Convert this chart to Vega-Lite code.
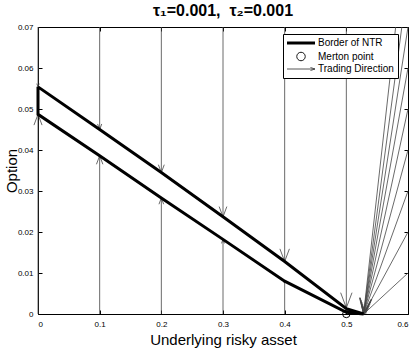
{
  "$schema": "https://vega.github.io/schema/vega-lite/v6.json",
  "width": 370,
  "height": 287,
  "autosize": "none",
  "padding": {"left": 38, "top": 27, "right": 7, "bottom": 35},
  "background": "white",
  "title": {"text": "τ₁=0.001,\u00a0\u00a0τ₂=0.001", "font": "Liberation Sans", "fontSize": 16, "fontWeight": "bold", "color": "black", "offset": 4},
  "config": {
    "view": {"stroke": "black", "strokeWidth": 1},
    "axis": {"domain": false, "grid": false, "tickColor": "black", "tickSize": -4, "labelFont": "Liberation Sans", "labelFontSize": 8, "labelColor": "black", "titleFont": "Liberation Sans", "titleFontSize": 15, "titleFontWeight": "normal", "titleColor": "black"}
  },
  "datasets": {
    "border": [
      {"i": 0, "x": 0, "y": 0.0554},
      {"i": 1, "x": 0.1, "y": 0.045},
      {"i": 2, "x": 0.2, "y": 0.0345},
      {"i": 3, "x": 0.3, "y": 0.0237},
      {"i": 4, "x": 0.4, "y": 0.0128},
      {"i": 5, "x": 0.5, "y": 0.0013},
      {"i": 6, "x": 0.528, "y": 0},
      {"i": 7, "x": 0.5, "y": 0.0004},
      {"i": 8, "x": 0.4, "y": 0.008},
      {"i": 9, "x": 0.3, "y": 0.0182},
      {"i": 10, "x": 0.2, "y": 0.0283},
      {"i": 11, "x": 0.1, "y": 0.0386},
      {"i": 12, "x": 0, "y": 0.0487},
      {"i": 13, "x": 0, "y": 0.0554}
    ],
    "arrows": [
      {"xs": 0, "ys": 0.07, "xe": 0, "ye": 0.0554},
      {"xs": 0, "ys": 0, "xe": 0, "ye": 0.0487},
      {"xs": 0.1, "ys": 0.07, "xe": 0.1, "ye": 0.045},
      {"xs": 0.1, "ys": 0, "xe": 0.1, "ye": 0.0386},
      {"xs": 0.2, "ys": 0.07, "xe": 0.2, "ye": 0.0345},
      {"xs": 0.2, "ys": 0, "xe": 0.2, "ye": 0.0283},
      {"xs": 0.3, "ys": 0.07, "xe": 0.3, "ye": 0.0237},
      {"xs": 0.3, "ys": 0, "xe": 0.3, "ye": 0.0182},
      {"xs": 0.4, "ys": 0.07, "xe": 0.4, "ye": 0.0128},
      {"xs": 0.4, "ys": 0, "xe": 0.4, "ye": 0.008},
      {"xs": 0.5, "ys": 0.07, "xe": 0.5, "ye": 0.0015},
      {"xs": 0.6, "ys": 0.01, "xe": 0.528, "ye": 0},
      {"xs": 0.6, "ys": 0.02, "xe": 0.528, "ye": 0},
      {"xs": 0.6, "ys": 0.03, "xe": 0.528, "ye": 0},
      {"xs": 0.6, "ys": 0.04, "xe": 0.528, "ye": 0},
      {"xs": 0.6, "ys": 0.05, "xe": 0.528, "ye": 0},
      {"xs": 0.6, "ys": 0.06, "xe": 0.528, "ye": 0},
      {"xs": 0.6, "ys": 0.07, "xe": 0.528, "ye": 0},
      {"xs": 0.59, "ys": 0.07, "xe": 0.528, "ye": 0},
      {"xs": 0.58, "ys": 0.07, "xe": 0.528, "ye": 0}
    ],
    "merton": [{"x": 0.5, "y": 0}]
  },
  "layer": [
    {
      "data": {"name": "arrows"},
      "mark": {"type": "rule", "strokeWidth": 0.8},
      "encoding": {
        "x": {"field": "xs", "type": "quantitative", "scale": {"domain": [0, 0.6], "nice": false, "zero": false},
              "axis": {"orient": "top", "values": [0, 0.1, 0.2, 0.3, 0.4, 0.5, 0.6], "labels": false, "title": null}},
        "x2": {"field": "xe"},
        "y": {"field": "ys", "type": "quantitative", "scale": {"domain": [0, 0.07], "nice": false, "zero": false},
              "axis": {"orient": "right", "values": [0, 0.01, 0.02, 0.03, 0.04, 0.05, 0.06, 0.07], "labels": false, "title": null}},
        "y2": {"field": "ye"},
        "color": {
          "datum": "Trading Direction",
          "scale": {"domain": ["Border of NTR", "Merton point", "Trading Direction"], "range": ["black", "black", "#444444"]},
          "legend": {
            "title": null,
            "orient": "none",
            "legendX": 245,
            "legendY": 7,
            "padding": 4,
            "strokeColor": "black",
            "fillColor": "white",
            "symbolSize": 100,
            "labelFont": "Liberation Sans",
            "labelFontSize": 10,
            "labelColor": "black",
            "labelOffset": 21,
            "rowPadding": 0.5,
            "encode": {
              "symbols": {
                "update": {
                  "shape": {"signal": "datum.value === 'Border of NTR' ? 'M-1,0H4.6' : (datum.value === 'Merton point' ? 'M0.95,0A0.85,0.85 0 1,0 2.65,0A0.85,0.85 0 1,0 0.95,0' : 'M-1,0H4.6M3.7,-0.3L4.6,0L3.7,0.3')"},
                  "strokeWidth": {"signal": "datum.value === 'Border of NTR' ? 3 : 0.9"},
                  "stroke": {"value": "black"},
                  "fill": {"value": "transparent"},
                  "opacity": {"value": 1}
                }
              }
            }
          }
        }
      }
    },
    {
      "data": {"name": "arrows"},
      "mark": {
        "type": "point",
        "shape": "M-0.375,-1L0,0L0.375,-1",
        "filled": false,
        "strokeWidth": 0.8,
        "opacity": 1,
        "angle": {"expr": "atan2(-(scale('x', datum.xe) - scale('x', datum.xs)), scale('y', datum.ye) - scale('y', datum.ys)) * 180 / PI"},
        "size": {"expr": "0.011664 * (pow(scale('x', datum.xe) - scale('x', datum.xs), 2) + pow(scale('y', datum.ye) - scale('y', datum.ys), 2))"}
      },
      "encoding": {
        "x": {"field": "xe", "type": "quantitative", "axis": null},
        "y": {"field": "ye", "type": "quantitative", "axis": null},
        "color": {"datum": "Trading Direction"}
      }
    },
    {
      "data": {"name": "merton"},
      "mark": {"type": "point", "shape": "circle", "filled": false, "size": 55, "strokeWidth": 1, "opacity": 1},
      "encoding": {
        "x": {"field": "x", "type": "quantitative", "axis": null},
        "y": {"field": "y", "type": "quantitative", "axis": null},
        "color": {"datum": "Merton point"}
      }
    },
    {
      "data": {"name": "border"},
      "mark": {"type": "line", "strokeWidth": 3, "strokeJoin": "miter"},
      "encoding": {
        "x": {"field": "x", "type": "quantitative",
              "axis": {"orient": "bottom", "values": [0, 0.1, 0.2, 0.3, 0.4, 0.5, 0.6], "format": ".1~f", "labelPadding": 10, "title": "Underlying risky asset", "titlePadding": 4}},
        "y": {"field": "y", "type": "quantitative",
              "axis": {"orient": "left", "values": [0, 0.01, 0.02, 0.03, 0.04, 0.05, 0.06, 0.07], "format": ".2~f", "labelPadding": 9, "title": "Option", "titlePadding": -2}},
        "order": {"field": "i"},
        "color": {"datum": "Border of NTR"}
      }
    }
  ],
  "resolve": {"axis": {"x": "independent", "y": "independent"}}
}
